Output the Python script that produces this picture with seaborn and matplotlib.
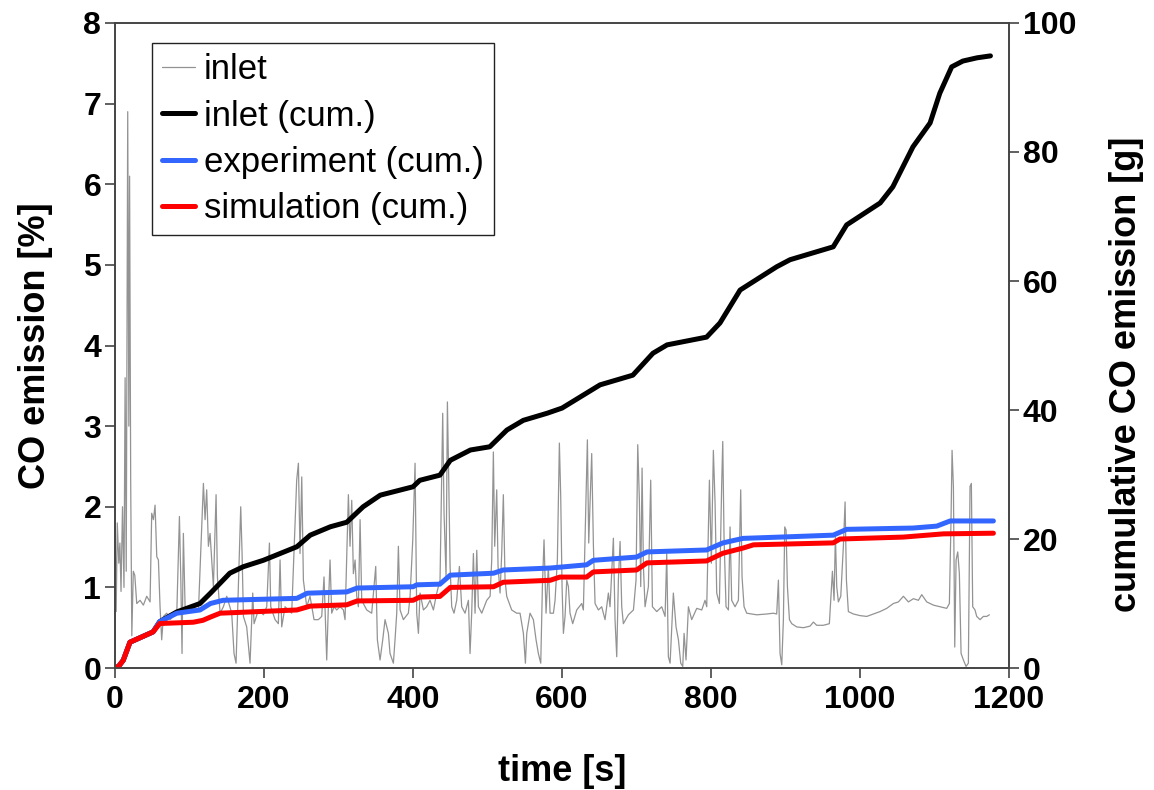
import matplotlib
matplotlib.use("Agg")
import matplotlib.pyplot as plt
import seaborn as sns

# --- Data --------------------------------------------------------------------
# Inlet CO concentration [%] vs time [s]
inlet_time = [
    0, 1.5, 3, 5, 6.5, 8, 10, 12, 13.5, 15,
    17, 18.5, 19.5, 21, 22.5, 24.5, 26.5, 29.1, 33.6, 38.0,
    42.5, 47.0, 49.2, 51.5, 53.7, 56.0, 58.2, 60.4, 62.6, 64.9,
    69.4, 73.8, 78.3, 82.8, 86.4, 88.2, 89.9, 91.7, 94.0, 98.4,
    105.2, 111.9, 118.6, 120.8, 123.0, 125.3, 127.5, 132.0, 135.6, 137.4,
    141.0, 145.4, 149.9, 156.6, 159.7, 162.4, 164.2, 168.7, 170.5, 172.3,
    176.7, 181.2, 184.8, 186.6, 192.4, 199.1, 203.6, 207.2, 209.0, 214.8,
    219.2, 221.5, 223.7, 228.2, 237.1, 243.8, 246.1, 248.3, 250.6, 252.8,
    257.3, 261.7, 267.1, 272.9, 277.4, 280.5, 284.1, 286.3, 288.6, 290.8,
    294.0, 297.5, 302.0, 306.5, 308.7, 313.2, 315.4, 317.7, 319.9, 322.2,
    324.4, 326.6, 328.9, 331.1, 337.8, 344.5, 349.9, 352.1, 355.7, 359.3,
    362.4, 366.9, 369.1, 373.6, 375.8, 378.1, 380.3, 382.6, 387.0, 393.7,
    396.0, 399.6, 402.7, 404.9, 407.2, 409.4, 413.9, 418.3, 422.8, 427.3,
    431.8, 436.2, 439.8, 441.6, 444.3, 446.1, 447.9, 449.7, 451.9, 455.0,
    458.6, 462.2, 465.3, 469.8, 474.3, 476.5, 478.7, 481.0, 483.2, 485.5,
    487.7, 492.2, 498.9, 503.4, 505.6, 507.8, 509.6, 512.3, 514.1, 516.8,
    519.0, 521.2, 523.5, 525.7, 532.4, 539.1, 543.6, 548.1, 550.8, 552.6,
    557.0, 561.5, 565.1, 568.2, 571.4, 573.6, 575.8, 578.5, 581.6, 583.9,
    588.4, 590.6, 593.7, 596.4, 598.2, 600.0, 601.8, 604.0, 606.3, 608.5,
    610.7, 614.3, 619.7, 626.4, 628.6, 632.2, 634.0, 635.8, 637.6, 639.8,
    642.1, 644.3, 648.8, 653.2, 657.7, 662.2, 664.4, 668.9, 671.1, 673.4,
    675.6, 677.9, 680.1, 682.3, 689.0, 695.8, 699.3, 701.6, 703.8, 705.6,
    707.4, 709.2, 711.4, 715.9, 719.0, 721.3, 727.1, 733.8, 738.3, 740.5,
    742.7, 745.0, 747.2, 749.4, 753.0, 756.2, 759.3, 762.0, 763.8, 766.4,
    769.6, 774.0, 780.8, 787.5, 791.9, 794.2, 797.8, 800.4, 803.1, 805.4,
    807.6, 811.2, 814.3, 815.7, 817.4, 820.1, 823.3, 825.5, 827.7, 832.2,
    836.7, 839.8, 841.6, 844.3, 847.9, 861.3, 874.7, 883.7, 888.1, 890.4,
    892.6, 894.9, 897.1, 898.9, 900.7, 902.5, 905.2, 908.3, 915.0, 924.0,
    932.9, 937.4, 941.8, 950.8, 958.8, 960.6, 962.9, 965.1, 966.9, 968.7,
    970.9, 974.1, 977.6, 979.9, 981.7, 984.3, 991.1, 1000.0, 1009.0, 1017.9,
    1026.8, 1035.8, 1044.7, 1051.5, 1058.2, 1064.9, 1071.6, 1078.3, 1082.8, 1089.5,
    1098.5, 1107.4, 1116.3, 1119.9, 1122.1, 1123.5, 1125.3, 1127.1, 1128.9, 1131.1,
    1133.3, 1135.6, 1138.7, 1142.3, 1145.4, 1147.6, 1149.4, 1151.2, 1154.3, 1156.6,
    1161.1, 1165.5, 1170.0, 1173.6,
]
inlet_pct = [
    1.8, 0.7, 1.8, 1.3, 1.55, 0.95, 2.0, 1.0, 3.6, 1.2,
    6.9, 3.0, 6.1, 2.3, 0.4, 1.2, 1.15, 0.80, 0.84, 0.78,
    0.89, 0.82, 1.92, 1.84, 2.02, 1.38, 1.34, 0.76, 0.35, 0.64,
    0.68, 0.60, 0.64, 0.66, 1.88, 1.13, 0.18, 1.67, 0.76, 0.68,
    0.74, 0.70, 2.29, 1.84, 2.21, 1.51, 1.67, 1.01, 2.15, 1.13,
    0.68, 0.76, 0.89, 0.68, 0.18, 0.06, 0.60, 2.00, 1.42, 0.64,
    0.51, 0.06, 0.93, 0.55, 0.72, 0.66, 0.76, 1.55, 0.76, 0.60,
    0.55, 1.34, 0.51, 0.76, 0.68, 2.33, 2.54, 1.42, 2.37, 1.09,
    0.76, 0.89, 0.60, 0.60, 0.64, 1.13, 0.10, 0.76, 1.34, 0.68,
    0.76, 0.72, 0.76, 0.72, 0.60, 2.15, 1.51, 2.08, 1.17, 1.34,
    0.89, 0.76, 1.84, 0.84, 0.72, 0.68, 1.26, 0.35, 0.10, 0.35,
    0.60, 0.43, 0.18, 0.06, 0.35, 0.68, 1.51, 0.72, 0.60, 0.68,
    0.89, 1.59, 2.54, 0.68, 0.43, 0.93, 0.72, 0.76, 0.84, 0.72,
    0.93, 1.09, 3.16, 1.92, 1.13, 3.30, 2.33, 1.26, 0.76, 0.68,
    0.84, 1.26, 0.76, 0.68, 0.84, 0.18, 0.68, 1.42, 0.68, 1.46,
    0.76, 0.68, 0.84, 0.89, 1.34, 2.68, 1.51, 2.21, 1.26, 0.93,
    1.42, 2.15, 1.09, 0.89, 0.72, 0.68, 0.68, 0.43, 0.06, 0.43,
    0.68, 0.60, 0.35, 0.18, 0.06, 1.01, 1.59, 0.68, 1.26, 0.68,
    0.68, 0.84, 1.34, 2.79, 2.13, 1.01, 0.43, 0.64, 1.09, 1.01,
    0.68, 0.55, 0.72, 0.80, 0.72, 2.13, 2.83, 1.55, 2.04, 2.66,
    1.51, 0.80, 0.72, 0.76, 0.60, 0.93, 0.76, 1.61, 0.60, 0.14,
    1.09, 1.57, 0.76, 0.55, 0.66, 0.72, 1.09, 2.77, 2.08, 1.01,
    2.48, 1.26, 0.76, 1.01, 2.33, 0.76, 0.70, 0.76, 0.64, 1.42,
    0.14, 0.06, 0.51, 0.93, 0.51, 0.35, 0.06, 0.02, 0.43, 0.10,
    0.76, 0.60, 0.74, 0.72, 0.84, 0.76, 2.33, 1.30, 2.70, 2.04,
    0.93, 0.80, 2.29, 2.81, 1.63, 0.76, 0.72, 1.75, 0.84, 0.76,
    0.84, 2.21, 1.13, 0.76, 0.68, 0.66, 0.67, 0.68, 0.67, 1.09,
    0.18, 0.04, 0.60, 1.75, 1.71, 1.01, 0.60, 0.55, 0.51, 0.50,
    0.52, 0.57, 0.53, 0.53, 0.55, 0.84, 1.20, 0.84, 1.65, 1.01,
    0.82, 0.89, 1.51, 2.06, 1.09, 0.70, 0.67, 0.65, 0.64, 0.67,
    0.70, 0.74, 0.80, 0.82, 0.89, 0.82, 0.86, 0.84, 0.91, 0.82,
    0.78, 0.76, 0.74, 0.80, 1.84, 2.70, 2.25, 0.26, 1.34, 1.44,
    1.17, 0.18, 0.10, 0.02, 0.06, 2.25, 2.29, 0.76, 0.72, 0.64,
    0.60, 0.64, 0.64, 0.66,
]

# Cumulative CO emission [g]
inlet_cum_time = [0, 5, 11, 20, 51, 60, 83, 114, 128, 154, 172, 199, 244, 262,
                  289, 311, 333, 356, 400, 409, 436, 450, 477, 503, 526, 548,
                  580, 600, 651, 695, 722, 741, 794, 812, 839, 888, 906, 964,
                  982, 1027, 1044, 1071, 1094, 1107, 1123, 1138, 1157, 1175]
inlet_cum_g = [0, 0.3, 1.2, 4.0, 5.6, 7.2, 8.7, 10.0, 11.6, 14.7, 15.7, 16.7,
               18.8, 20.6, 21.9, 22.6, 25.0, 26.8, 28.1, 29.1, 29.9, 32.2,
               33.8, 34.3, 36.9, 38.4, 39.5, 40.3, 43.9, 45.4, 48.8, 50.1,
               51.3, 53.5, 58.6, 62.2, 63.3, 65.3, 68.7, 72.1, 74.6, 80.8,
               84.5, 89.1, 93.2, 94.1, 94.6, 94.9]

exp_cum_time = [0, 5, 11, 20, 51, 60, 83, 114, 128, 145, 244, 258, 311, 325,
                400, 405, 436, 450, 508, 521, 584, 633, 642, 700, 714, 794,
                816, 843, 893, 964, 982, 1071, 1103, 1121, 1179]
exp_cum_g = [0, 0.3, 1.2, 4.0, 5.6, 7.2, 8.5, 9.0, 10.0, 10.5, 10.8, 11.6,
             11.8, 12.4, 12.6, 12.9, 13.0, 14.4, 14.7, 15.2, 15.5, 16.0, 16.7,
             17.2, 18.0, 18.3, 19.4, 20.1, 20.3, 20.6, 21.5, 21.7, 22.0, 22.8,
             22.8]

sim_cum_time = [0, 5, 11, 20, 51, 60, 105, 118, 128, 141, 244, 262, 311, 325,
                400, 409, 436, 450, 508, 521, 584, 597, 633, 642, 700, 714,
                794, 816, 843, 857, 893, 964, 973, 1058, 1112, 1179]
sim_cum_g = [0, 0.3, 1.2, 4.0, 5.6, 6.9, 7.1, 7.4, 7.9, 8.5, 9.0, 9.6, 9.8,
             10.4, 10.5, 11.0, 11.1, 12.5, 12.6, 13.3, 13.6, 14.1, 14.1, 14.9,
             15.2, 16.3, 16.6, 17.8, 18.6, 19.1, 19.2, 19.4, 20.0, 20.3, 20.8,
             20.9]

x_ticks = [0, 200, 400, 600, 800, 1000, 1200]
left_ticks = [0, 1, 2, 3, 4, 5, 6, 7, 8]
right_ticks = [0, 20, 40, 60, 80, 100]

# --- Style -------------------------------------------------------------------
sns.set_style("white")
plt.rcParams['font.family'] = ['Liberation Sans', 'DejaVu Sans']
plt.rcParams['text.color'] = 'black'
plt.rcParams['axes.labelcolor'] = 'black'
spine_color = '#444444'

fig = plt.figure(figsize=(11.54, 7.9), dpi=100)
ax = fig.add_axes([0.0997, 0.1544, 0.7747, 0.8165])
ax2 = ax.twinx()

# --- Plot --------------------------------------------------------------------
sns.lineplot(x=inlet_time, y=inlet_pct, ax=ax, color='#939393',
             linewidth=0.9, label='inlet', legend=False)
sns.lineplot(x=inlet_cum_time, y=inlet_cum_g, ax=ax2, color='black',
             linewidth=3.6, label='inlet (cum.)', legend=False)
sns.lineplot(x=exp_cum_time, y=exp_cum_g, ax=ax2, color='#3366ff',
             linewidth=3.6, label='experiment (cum.)', legend=False)
sns.lineplot(x=sim_cum_time, y=sim_cum_g, ax=ax2, color='#ff0000',
             linewidth=3.6, label='simulation (cum.)', legend=False)

ax.set_xlim(0, 1200)
ax.set_ylim(0, 8)
ax2.set_ylim(0, 100)
ax.set_xticks(x_ticks)
ax.set_yticks(left_ticks)
ax2.set_yticks(right_ticks)

ax.set_xlabel('time [s]', fontsize=26, fontweight='bold', labelpad=28)
ax.set_ylabel('CO emission [%]', fontsize=26, fontweight='bold', labelpad=22)
ax2.set_ylabel('cumulative CO emission [g]', fontsize=26, fontweight='bold')
ax2.yaxis.set_label_coords(1.112, 0.455)

for a in (ax, ax2):
    for s in a.spines.values():
        s.set_color(spine_color)
        s.set_linewidth(1.2)
    a.tick_params(direction='out', length=7, width=1.2, color=spine_color,
                  labelcolor='black', labelsize=23, pad=3)
    for lab in a.get_xticklabels() + a.get_yticklabels():
        lab.set_fontweight('bold')
ax.tick_params(axis='x', bottom=True, pad=5)
ax.tick_params(axis='y', left=True)
ax2.tick_params(axis='y', right=True)

# --- Legend ------------------------------------------------------------------
h1, l1 = ax.get_legend_handles_labels()
h2, l2 = ax2.get_legend_handles_labels()
leg = ax2.legend(h1 + h2, l1 + l2, loc='upper left',
                 bbox_to_anchor=(0.041, 0.969), borderaxespad=0,
                 fontsize=25, frameon=True, fancybox=False, framealpha=1,
                 edgecolor='#222222', handlelength=0.95, handletextpad=0.25,
                 labelspacing=0.38, borderpad=0.3)
leg.get_frame().set_linewidth(1.0)

fig.savefig('out.png', dpi=100)
plt.close(fig)
